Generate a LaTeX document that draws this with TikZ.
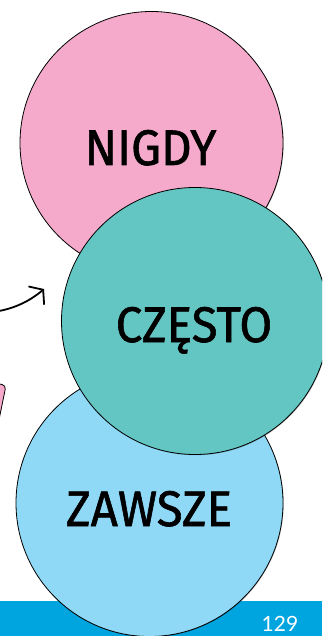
\documentclass[tikz,border=0pt]{standalone}
\usepackage{fontspec}
\usetikzlibrary{arrows.meta,shadows}
\newfontfamily\circfont[FakeStretch=0.95,FakeBold=1.2]{Fira Sans}
\newfontfamily\numfont{Lato}
\definecolor{pinkc}{HTML}{F5AACB}
\definecolor{tealc}{HTML}{63C6C3}
\definecolor{bluec}{HTML}{8FD9F7}
\definecolor{barc}{HTML}{00A4DF}
\tikzset{
  bubble/.style={circle, draw=black, line width=0.8pt, inner sep=0pt,
    drop shadow={shadow xshift=0.7pt, shadow yshift=-0.7pt, opacity=0.25, fill=black}},
  lbl/.style={font=\circfont\fontsize{50}{50}\selectfont, text=black, inner sep=0pt, anchor=base},
  pagenum/.style={font=\numfont\fontsize{21}{21}\selectfont, text=white, inner sep=0pt, anchor=base},
  arr/.style={line width=1.8pt, -{Straight Barb[length=9pt,width=24pt]}}
}
\begin{document}
\begin{tikzpicture}[x=1pt,y=-1pt]
\useasboundingbox (0,0) rectangle (322,636);
\clip (0,0) rectangle (322,636);
% bottom bar
\node[fill=barc, draw=none, minimum width=322pt, minimum height=35pt, inner sep=0pt, anchor=north west] (bar) at (0,601) {};
% pink box at the left edge
\node[fill=pinkc, draw=black, line width=0.8pt, rounded corners=4pt, minimum width=60pt, minimum height=70pt, rotate=-11.5, anchor=north east] (box) at (6.5,385) {};
% circles
\node[bubble, fill=bluec, minimum size=267pt] (zawsze) at (149.5,503) {};
\node[bubble, fill=pinkc, minimum size=263pt] (nigdy) at (151.5,143) {};
\node[bubble, fill=tealc, minimum size=267pt] (czesto) at (195,321) {};
% labels
\node[lbl] (tn) at (150.5,165) {NIGDY};
\node[lbl] (tc) at (194,342) {CZĘSTO};
\node[lbl] (tz) at (149,526) {ZAWSZE};
% page number
\node[pagenum] (pn) at (280,631.5) {129};
% arrow
\coordinate (as) at (-1,311);
\coordinate (ae) at (44,289);
\draw[arr] (as) .. controls (15,308) and (30,301) .. (ae);
\end{tikzpicture}
\end{document}
